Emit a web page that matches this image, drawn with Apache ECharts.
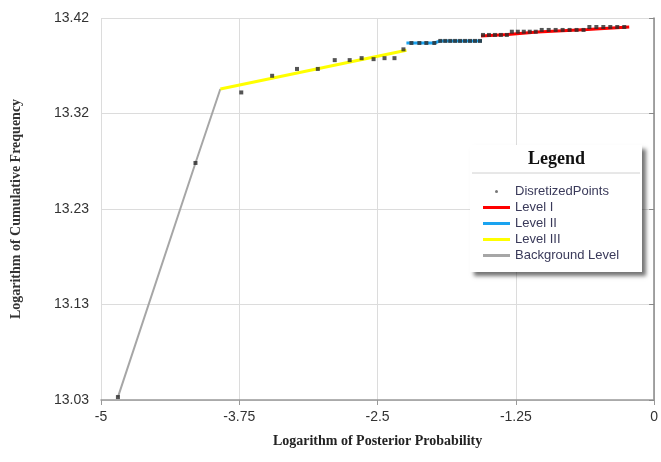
<!DOCTYPE html>
<html>
<head>
<meta charset="utf-8">
<script src="https://cdn.jsdelivr.net/npm/echarts@6/dist/echarts.min.js"></script>
<style>
  html, body { margin: 0; padding: 0; background: #fff; }
  #chart { width: 661px; height: 462px; }
</style>
</head>
<body>
<div id="chart"></div>
<script>
(function () {
	"use strict";
	// tick labels as printed on the y axis
	var yTickLabels = ['13.03', '13.13', '13.23', '13.32', '13.42'];

	// discretized points [x, y]
	var pointsData = [
		[-4.847, 13.033], [-4.146, 13.272],
		[-3.732, 13.344], [-3.453, 13.361], [-3.228, 13.368], [-3.040, 13.368],
		[-2.887, 13.377], [-2.752, 13.377], [-2.644, 13.379], [-2.536, 13.378],
		[-2.437, 13.379], [-2.347, 13.379], [-2.266, 13.388],
		[-2.194, 13.3945], [-2.122, 13.3945], [-2.059, 13.3945], [-1.987, 13.3945],
		[-1.933, 13.3966], [-1.888, 13.3966], [-1.843, 13.3966], [-1.799, 13.3966],
		[-1.754, 13.3966], [-1.709, 13.3966], [-1.664, 13.3966], [-1.619, 13.3966], [-1.574, 13.3966],
		[-1.547, 13.4027], [-1.493, 13.4027], [-1.439, 13.4027], [-1.385, 13.4027], [-1.331, 13.4027],
		[-1.286, 13.4060], [-1.232, 13.4060], [-1.178, 13.4060], [-1.124, 13.4060], [-1.070, 13.4060],
		[-1.016, 13.4078], [-0.953, 13.4078], [-0.890, 13.4078], [-0.827, 13.4078],
		[-0.764, 13.4078], [-0.701, 13.4078], [-0.638, 13.4078],
		[-0.585, 13.4108], [-0.522, 13.4108], [-0.459, 13.4108], [-0.396, 13.4108],
		[-0.333, 13.4108], [-0.270, 13.4108]
	];
	var level1Data = [[-1.565, 13.4016], [-1.322, 13.4032], [-1.052, 13.4057], [-0.603, 13.4083], [-0.225, 13.4108]];
	var level2Data = [[-2.239, 13.3945], [-1.987, 13.3945], [-1.933, 13.3966], [-1.556, 13.3966]];
	var level3Data = [[-3.921, 13.3475], [-2.239, 13.387]];
	var backgroundData = [[-4.847, 13.033], [-4.146, 13.272], [-3.921, 13.3475]];

	var chart = echarts.init(document.getElementById('chart'));
	var lineSeries = function (name, data, color, width) {
		return {
			name: name,
			type: 'line',
			data: data,
			showSymbol: false,
			symbol: 'none',
			lineStyle: { color: color, width: width },
			itemStyle: { color: color },
			z: 2
		};
	};
	var option = {
		backgroundColor: '#fff',
		animation: false,
		grid: { left: 101, right: 4, top: 18, bottom: 62 },
		xAxis: {
			type: 'value',
			min: -5,
			max: 0,
			interval: 1.25,
			name: 'Logarithm of Posterior Probability',
			nameLocation: 'middle',
			nameGap: 34,
			nameTextStyle: { fontFamily: 'Liberation Serif', fontWeight: 'bold', fontSize: 14, color: '#222' },
			axisLine: { lineStyle: { color: '#999', width: 1.5 } },
			axisTick: { show: true, length: 5, lineStyle: { color: '#999' } },
			axisLabel: { fontFamily: 'Liberation Sans', fontSize: 14, color: '#333', margin: 10 },
			splitLine: { show: true, lineStyle: { color: '#dcdcdc', width: 1 } }
		},
		yAxis: {
			type: 'value',
			min: 13.03,
			max: 13.42,
			interval: 0.0975,
			name: 'Logarithm of Cumulative Frequency',
			nameLocation: 'middle',
			nameGap: 78,
			nameTextStyle: { fontFamily: 'Liberation Serif', fontWeight: 'bold', fontSize: 14, color: '#333' },
			axisLine: { show: true, lineStyle: { color: '#888', width: 1.5 } },
			axisTick: { show: true, length: 5, lineStyle: { color: '#888' } },
			axisLabel: {
				fontFamily: 'Liberation Sans', fontSize: 14, color: '#333', margin: 12,
				formatter: function (v, i) { return yTickLabels[i]; }
			},
			splitLine: { show: true, lineStyle: { color: '#dcdcdc', width: 1 } }
		},
		legend: {
			orient: 'vertical',
			left: 478,
			top: 180,
			z: 100,
			itemWidth: 27,
			itemHeight: 3,
			itemGap: 3,
			textStyle: { fontFamily: 'Liberation Sans', fontSize: 13, color: '#3a3a5a' },
			data: [
				{ name: 'DisretizedPoints', icon: 'circle', itemStyle: { color: '#555' } },
				{ name: 'Level I', icon: 'rect' },
				{ name: 'Level II', icon: 'rect' },
				{ name: 'Level III', icon: 'rect' },
				{ name: 'Background Level', icon: 'rect' }
			]
		},
		graphic: [
			{
				type: 'rect', left: 470, top: 145, z: 90,
				shape: { width: 172, height: 127 },
				style: { fill: '#fff', shadowBlur: 4, shadowOffsetX: 4, shadowOffsetY: 4, shadowColor: 'rgba(0,0,0,0.55)' }
			},
			{
				type: 'line', z: 91,
				shape: { x1: 472, y1: 173, x2: 640, y2: 173 },
				style: { stroke: '#d0d0d0', lineWidth: 1 }
			},
			{
				type: 'text', z: 91, left: 528, top: 150,
				style: { text: 'Legend', font: 'bold 18px "Liberation Serif"', fill: '#111' }
			}
		],
		series: [
			lineSeries('Background Level', backgroundData, '#a6a6a6', 2),
			lineSeries('Level III', level3Data, '#ffff00', 3),
			lineSeries('Level II', level2Data, '#1aa3f0', 3),
			lineSeries('Level I', level1Data, '#ff0000', 3),
			{
				name: 'DisretizedPoints',
				type: 'scatter',
				data: pointsData,
				symbol: 'rect',
				symbolSize: 4,
				itemStyle: { color: '#2b2b2b' },
				z: 3
			}
		]
	};
	chart.setOption(option);
})();
</script>
</body>
</html>
